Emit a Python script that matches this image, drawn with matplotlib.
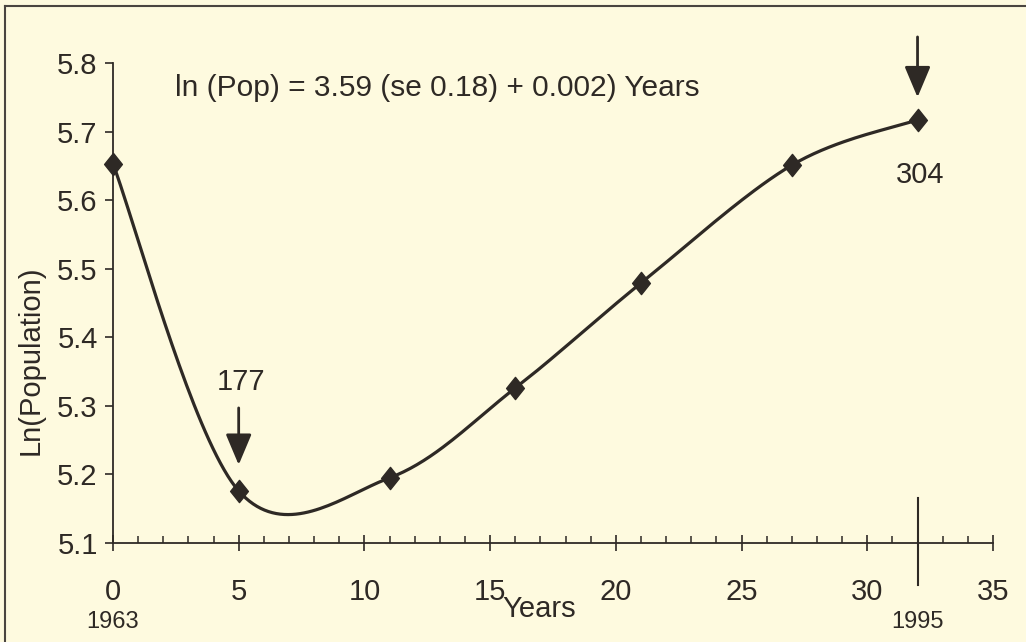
import numpy as np
import matplotlib
matplotlib.use('Agg')
from matplotlib import pyplot as plt
from matplotlib.path import Path
from matplotlib.lines import Line2D

plt.rcParams['font.family'] = ['Liberation Sans', 'DejaVu Sans']

# years since 1963 and ln(population)
years = [0, 5, 11, 16, 21, 27, 32]
ln_pop = [5.653, 5.176, 5.195, 5.326, 5.479, 5.651, 5.717]

xticks = [0, 5, 10, 15, 20, 25, 30, 35]
yticks = [5.1, 5.2, 5.3, 5.4, 5.5, 5.6, 5.7, 5.8]
year_marks = [0, 32]
year_labels = ['1963', '1995']

# population counts called out on the curve
callout_x = [5, 32]
callout_text = ['177', '304']

equation = 'ln (Pop) = 3.59 (se 0.18) + 0.002) Years'

bg = '#fefadf'
ink = '#2e2925'


def smooth(xs, ys, n=40):
    # bezier segments with catmull-rom style control points
    pts = np.column_stack([xs, ys]).astype(float)
    padded = np.vstack([pts[0], pts, pts[-1]])
    out = []
    t = np.linspace(0, 1, n)[:, None]
    for i in range(1, len(padded) - 2):
        p0, p3 = padded[i], padded[i + 1]
        c1 = p0 + (padded[i + 1] - padded[i - 1]) / 6.0
        c2 = p3 - (padded[i + 2] - padded[i]) / 6.0
        seg = ((1 - t) ** 3) * p0 + 3 * ((1 - t) ** 2) * t * c1 \
            + 3 * (1 - t) * t ** 2 * c2 + t ** 3 * p3
        out.append(seg if i == 1 else seg[1:])
    seg = np.vstack(out)
    return seg[:, 0], seg[:, 1]


fig = plt.figure(figsize=(10.26, 6.42), dpi=100, facecolor=bg)
ax = fig.add_axes([0.1101, 0.1542, 0.8577, 0.7477])
ax.set_facecolor(bg)

sx, sy = smooth(years, ln_pop)
ax.plot(sx, sy, color=ink, lw=2.3, zorder=3, clip_on=False)

diamond = Path([(0, 1), (0.8, 0), (0, -1), (-0.8, 0), (0, 1)],
               [Path.MOVETO, Path.LINETO, Path.LINETO, Path.LINETO, Path.CLOSEPOLY])
ax.plot(years, ln_pop, linestyle='none', marker=diamond, markersize=16,
        color=ink, zorder=4, clip_on=False)

ax.set_xlim(0, 35)
ax.set_ylim(5.1, 5.8)
ax.set_xticks(xticks)
ax.set_xticks(np.arange(0, 36, 1), minor=True)
ax.set_yticks(yticks)
ax.set_xticklabels([str(v) for v in xticks])
ax.set_yticklabels(['%.1f' % v for v in yticks])

for s in ['top', 'right']:
    ax.spines[s].set_visible(False)
for s in ['left', 'bottom']:
    ax.spines[s].set_color(ink)
    ax.spines[s].set_linewidth(1.3)

ax.tick_params(axis='x', which='major', direction='inout', length=12,
               width=1.2, color=ink, labelsize=21, labelcolor=ink, pad=19)
ax.tick_params(axis='x', which='minor', direction='in', length=5,
               width=1.1, color=ink)
ax.tick_params(axis='y', which='major', direction='out', length=6,
               width=1.2, color=ink, labelsize=21, labelcolor=ink, pad=5)

ax.set_xlabel('Years', fontsize=21, color=ink)
ax.xaxis.set_label_coords(0.484, -0.108)
ax.set_ylabel('Ln(Population)', fontsize=21, color=ink)
ax.yaxis.set_label_coords(-0.078, 0.38)

# calendar years under the first and last survey
trans = ax.get_xaxis_transform()
for x, lab in zip(year_marks, year_labels):
    ax.text(x, -0.165, lab, transform=trans, ha='center', va='center',
            fontsize=17, color=ink)
ax.axvline(year_marks[-1], ymin=-0.0875, ymax=0.094, color=ink, lw=1.5,
           clip_on=False)

ax.text(2.47, 5.764, equation, fontsize=21.5, color=ink, va='center', ha='left')

# arrows with population labels
arrow_props = dict(arrowstyle='-|>,head_length=0.95,head_width=0.4',
                   color=ink, lw=2, shrinkA=0, shrinkB=0, mutation_scale=20)
ax.annotate('', xy=(callout_x[0], 5.214), xytext=(callout_x[0], 5.297),
            arrowprops=arrow_props)
ax.text(callout_x[0] + 0.1, 5.335, callout_text[0], fontsize=21, color=ink,
        ha='center', va='center')
ax.annotate('', xy=(callout_x[1], 5.750), xytext=(callout_x[1], 5.838),
            arrowprops=arrow_props, annotation_clip=False)
ax.text(callout_x[1] + 0.1, 5.636, callout_text[1], fontsize=21, color=ink,
        ha='center', va='center')

# page frame
fig.add_artist(Line2D([5 / 1026, 5 / 1026], [0, 1 - 6 / 642], color='#4a4540',
                      lw=1.5, transform=fig.transFigure))
fig.add_artist(Line2D([5 / 1026, 1], [1 - 6 / 642, 1 - 6 / 642], color='#4a4540',
                      lw=1.5, transform=fig.transFigure))

fig.savefig('out.png', dpi=100, facecolor=bg)
